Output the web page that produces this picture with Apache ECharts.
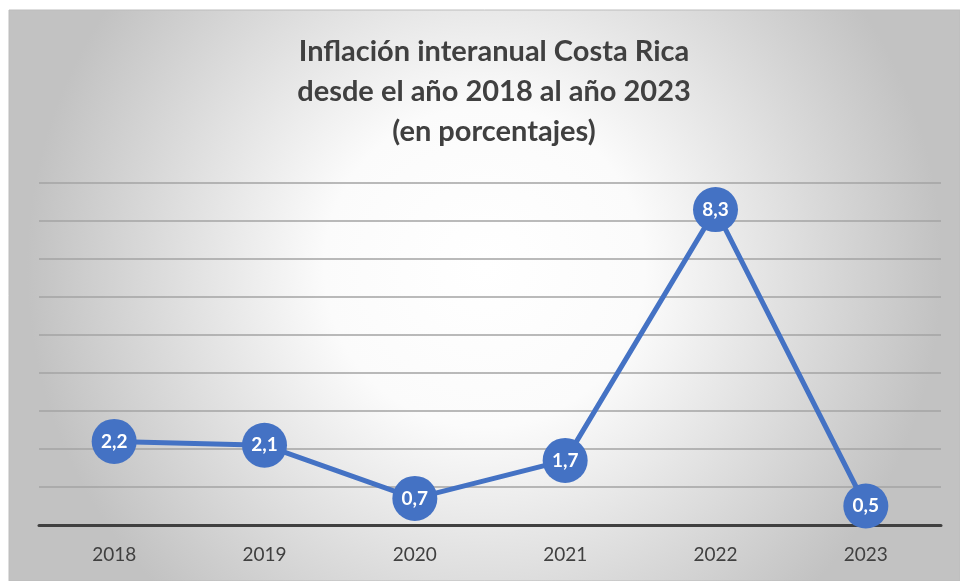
<!DOCTYPE html>
<html>
<head>
<meta charset="utf-8">
<script src="https://cdn.jsdelivr.net/npm/echarts@6/dist/echarts.min.js"></script>
<style>
  html, body { margin: 0; padding: 0; background: #fff; }
  #chart { width: 960px; height: 581px; }
</style>
</head>
<body>
<div id="chart"></div>
<script>
const titleLines = ['Inflación interanual Costa Rica', 'desde el año 2018 al año 2023', '(en porcentajes)']
const years = ['2018', '2019', '2020', '2021', '2022', '2023']
const inflation = [2.2, 2.1, 0.7, 1.7, 8.3, 0.5]

const chart = echarts.init(document.getElementById('chart'))

const option = {
  backgroundColor: '#fff',
  graphic: [{
    type: 'rect',
    z: -10,
    silent: true,
    shape: { x: 9, y: 10, width: 951, height: 571 },
    style: {
      fill: new echarts.graphic.RadialGradient(0.5, 0.45, 0.8, [
        { offset: 0, color: '#ffffff' },
        { offset: 0.35, color: '#fbfbfb' },
        { offset: 1, color: '#c2c2c2' }
      ]),
      stroke: '#bcbcbc',
      lineWidth: 1
    }
  }],
  title: {
    text: titleLines.join('\n'),
    left: 489,
    top: 27,
    textAlign: 'center',
    textStyle: {
      fontFamily: 'Lato',
      fontWeight: 'bold',
      fontSize: 29,
      lineHeight: 40,
      color: '#404040'
    }
  },
  grid: {
    left: 39,
    right: 19,
    top: 183,
    bottom: 56
  },
  xAxis: {
    type: 'category',
    data: years,
    boundaryGap: true,
    axisLine: { lineStyle: { color: '#404040', width: 3 } },
    axisTick: { show: false },
    axisLabel: {
      color: '#404040',
      fontFamily: 'Lato',
      fontSize: 19,
      margin: 20
    }
  },
  yAxis: {
    type: 'value',
    min: 0,
    max: 9,
    interval: 1,
    axisLine: { show: false },
    axisTick: { show: false },
    axisLabel: { show: false },
    splitLine: { lineStyle: { color: '#a3a3a3', width: 1.5 } }
  },
  series: [{
    type: 'line',
    data: inflation,
    symbol: 'circle',
    symbolSize: 45,
    lineStyle: { color: '#4472c4', width: 5 },
    itemStyle: { color: '#4472c4' },
    label: {
      show: true,
      position: 'inside',
      color: '#fff',
      fontFamily: 'Lato',
      fontWeight: 'bold',
      fontSize: 19,
      formatter: p => p.value.toFixed(1).replace('.', ',')
    }
  }]
}

chart.setOption(option)
</script>
</body>
</html>
